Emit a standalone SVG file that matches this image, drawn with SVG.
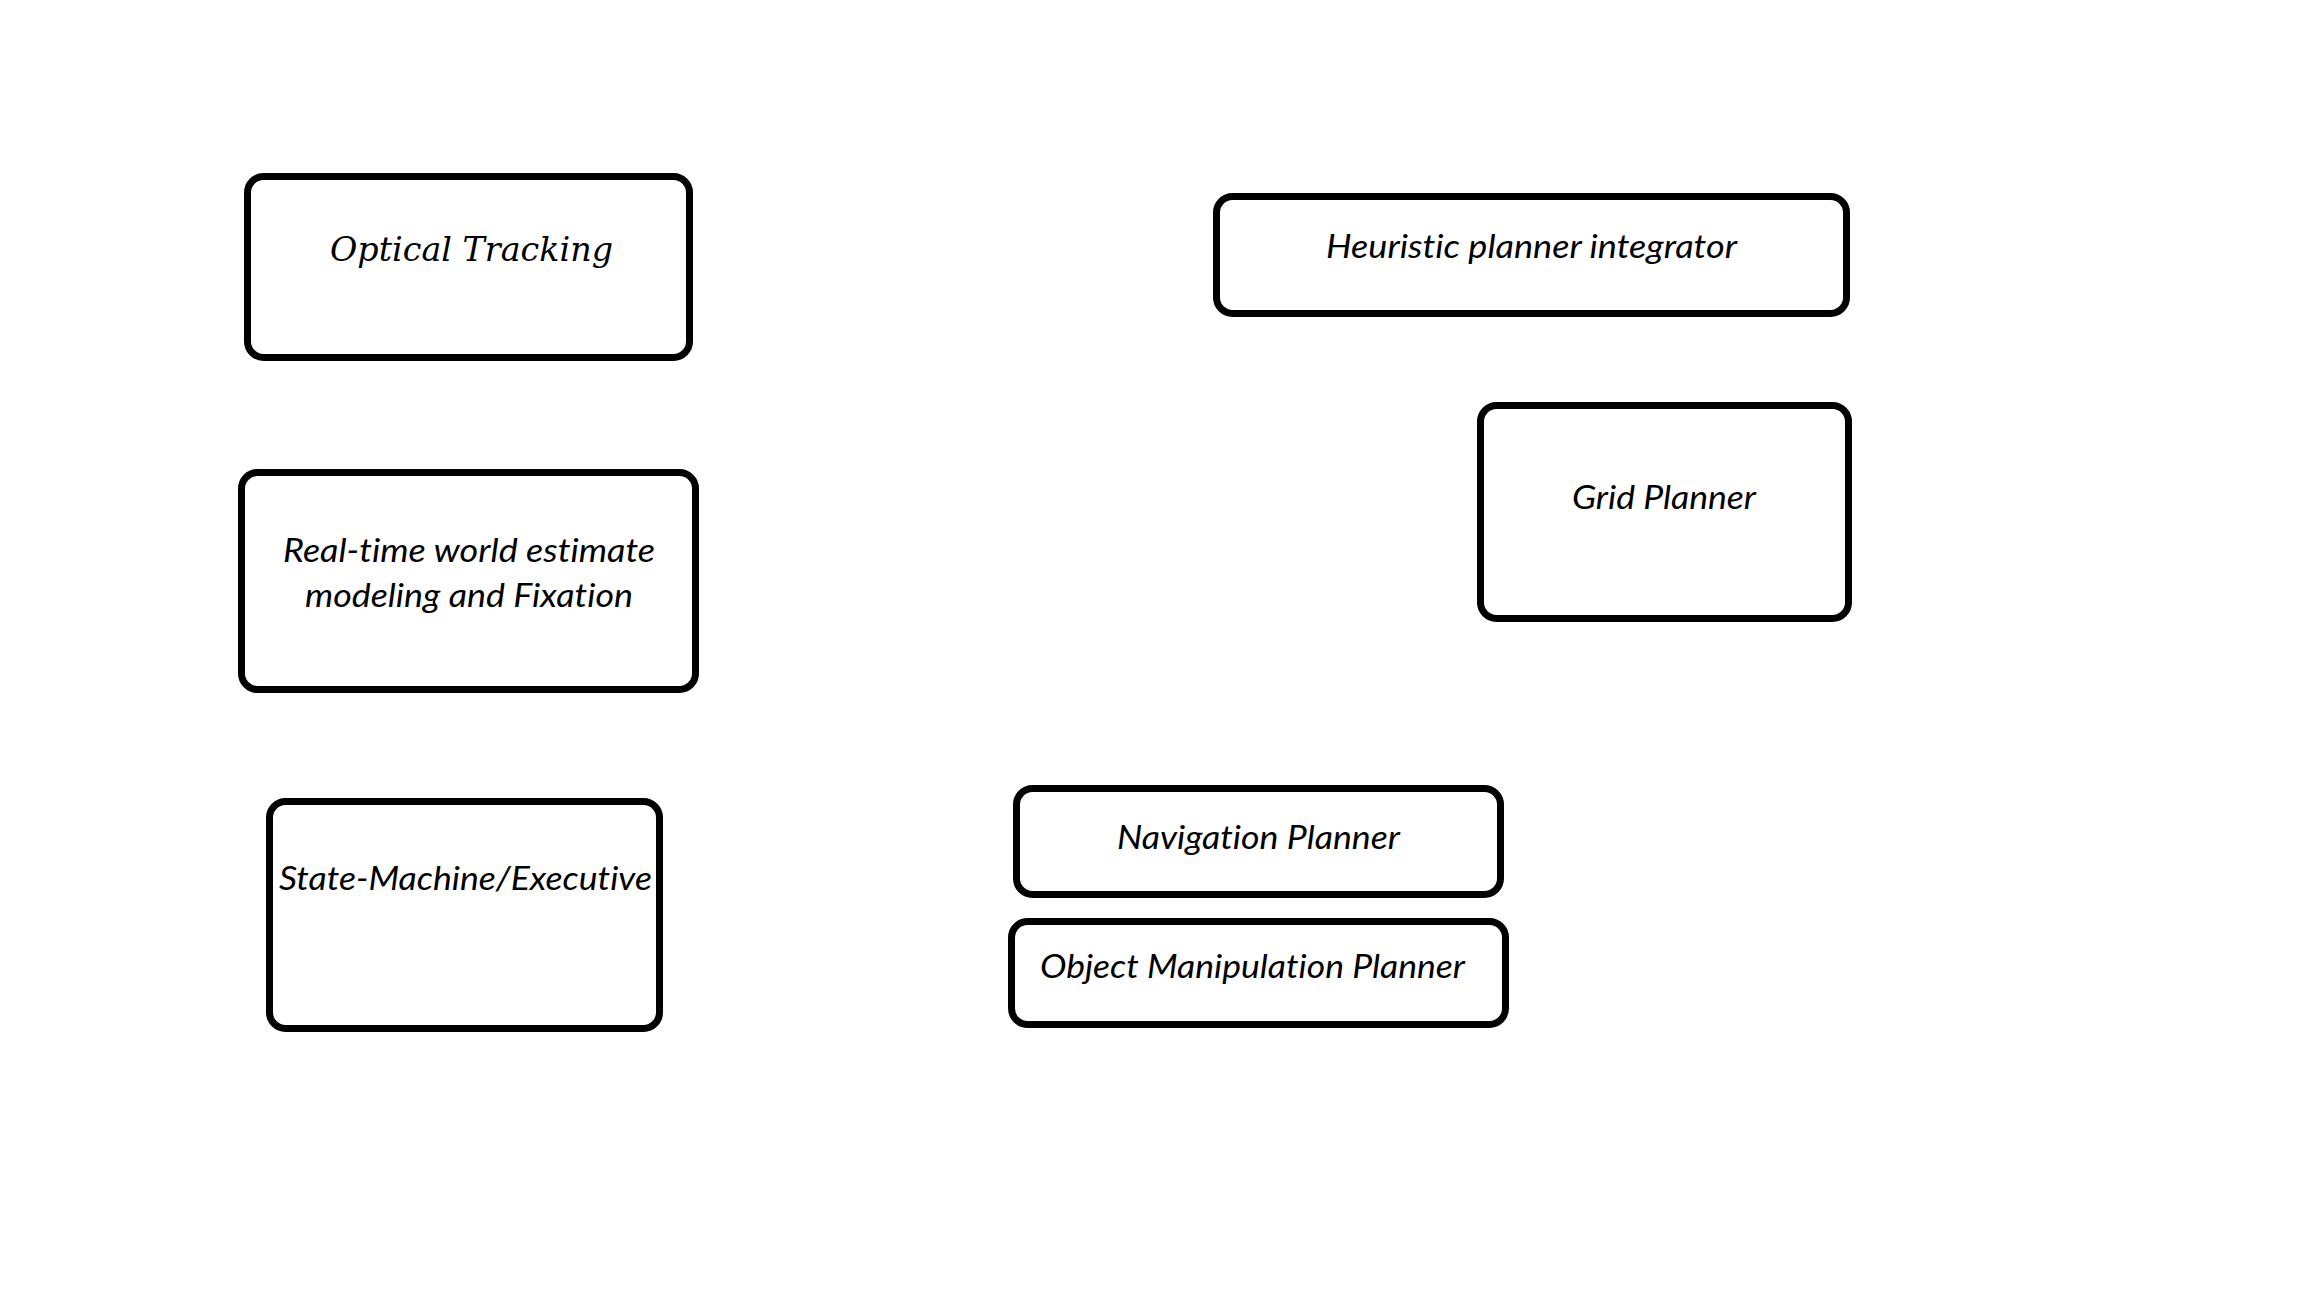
<svg xmlns="http://www.w3.org/2000/svg" width="2304" height="1296" viewBox="0 0 2304 1296">
  <style>
    .box { fill: #ffffff; stroke: #000000; stroke-width: 7; }
    .lbl { font-family: Lato, "Liberation Sans", sans-serif; font-style: italic; font-size: 32px; fill: #000000; font-variant-ligatures: none; }
    .serif { font-family: "DejaVu Serif", "Liberation Serif", serif; font-style: italic; font-size: 34px; fill: #000000; font-variant-ligatures: none; }
  </style>
  <rect x="0" y="0" width="2304" height="1296" fill="#ffffff"/>
  <g id="connectors"></g>
  <g id="optical-tracking">
    <rect class="box" x="247.5" y="176.5" width="442" height="181" rx="16" ry="16"/>
    <text class="serif" x="330" y="261" textLength="283" lengthAdjust="spacingAndGlyphs">Optical Tracking</text>
  </g>
  <g id="heuristic-planner-integrator">
    <rect class="box" x="1216.5" y="196.5" width="630" height="117" rx="16" ry="16"/>
    <text class="lbl" x="1326" y="258" textLength="411" lengthAdjust="spacingAndGlyphs">Heuristic planner integrator</text>
  </g>
  <g id="grid-planner">
    <rect class="box" x="1480.5" y="405.5" width="368" height="213" rx="16" ry="16"/>
    <text class="lbl" x="1572" y="509" textLength="184" lengthAdjust="spacingAndGlyphs">Grid Planner</text>
  </g>
  <g id="real-time-world-estimate">
    <rect class="box" x="241.5" y="472.5" width="454" height="217" rx="16" ry="16"/>
    <text class="lbl" x="283" y="562" textLength="372" lengthAdjust="spacingAndGlyphs">Real-time world estimate</text>
    <text class="lbl" x="305" y="607" textLength="328" lengthAdjust="spacingAndGlyphs">modeling and Fixation</text>
  </g>
  <g id="state-machine-executive">
    <rect class="box" x="269.5" y="801.5" width="390" height="227" rx="16" ry="16"/>
    <text class="lbl" x="279" y="890" textLength="373" lengthAdjust="spacingAndGlyphs">State-Machine/Executive</text>
  </g>
  <g id="navigation-planner">
    <rect class="box" x="1016.5" y="788.5" width="484" height="106" rx="16" ry="16"/>
    <text class="lbl" x="1117" y="849" textLength="283" lengthAdjust="spacingAndGlyphs">Navigation Planner</text>
  </g>
  <g id="object-manipulation-planner">
    <rect class="box" x="1011.5" y="921.5" width="494" height="103" rx="16" ry="16"/>
    <text class="lbl" x="1040" y="978" textLength="425" lengthAdjust="spacingAndGlyphs">Object Manipulation Planner</text>
  </g>
</svg>
